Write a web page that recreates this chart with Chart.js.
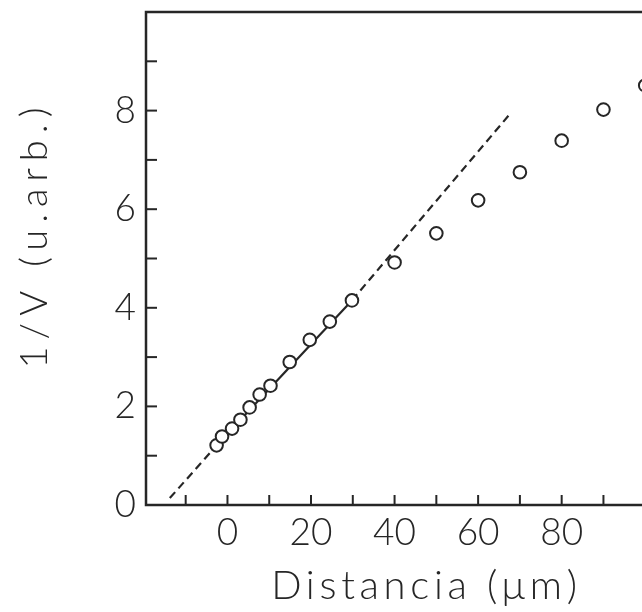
<!DOCTYPE html>
<html>
<head>
<meta charset="utf-8">
<script src="https://cdn.jsdelivr.net/npm/chart.js@4/dist/chart.umd.min.js"></script>
<style>
html,body{margin:0;padding:0;background:#fff;overflow:hidden;width:642px;height:612px;}
#wrap{position:absolute;left:0;top:0;width:700px;height:612px;}
</style>
</head>
<body>
<div id="wrap"><canvas id="c" width="700" height="612"></canvas></div>
<script>
// Data
const distancia = [-2.6, -1.3, 1.1, 3.1, 5.3, 7.7, 10.3, 14.9, 19.7, 24.5, 29.8, 40, 50, 60, 70, 80, 90, 100];
const inversoV  = [1.21, 1.39, 1.55, 1.73, 1.98, 2.24, 2.42, 2.90, 3.35, 3.72, 4.15, 4.92, 5.51, 6.18, 6.75, 7.39, 8.02, 8.51];
const ajusteX = [-13.8, -2.6, 29.8, 67.3];
const ajusteY = [0.14, 1.21, 4.15, 7.9];
const ajusteDiscontinuo = [true, false, true];
const xTickLabels = [0, 20, 40, 60, 80];
const yTickLabels = [0, 2, 4, 6, 8];
const xTitle = 'Distancia (μm)';
const yTitle = '1/V (u.arb.)';

const ink = '#262626';
const fontFam = 'Lato, "DejaVu Sans", sans-serif';

function spacedTitle(s, spacing, dx, dy) {
  if (s._spaced) return;
  s._spaced = true;
  const orig = s.drawTitle;
  s.drawTitle = function () {
    const ctx = this.ctx;
    ctx.save();
    ctx.letterSpacing = spacing;
    ctx.translate(dx, dy);
    orig.apply(this, arguments);
    ctx.restore();
    ctx.letterSpacing = '0px';
  };
}

const innerTicks = {
  id: 'innerTicks',
  afterDatasetsDraw(chart) {
    const {ctx, chartArea: a, scales} = chart;
    ctx.save();
    ctx.strokeStyle = ink;
    ctx.lineWidth = 2;
    scales.x.ticks.forEach(t => {
      const px = scales.x.getPixelForValue(t.value);
      if (px <= a.left + 1 || px >= a.right - 1) return;
      ctx.beginPath(); ctx.moveTo(px, a.bottom); ctx.lineTo(px, a.bottom - 10); ctx.stroke();
    });
    scales.y.ticks.forEach(t => {
      const py = scales.y.getPixelForValue(t.value);
      if (py <= a.top + 1 || py >= a.bottom - 1) return;
      ctx.beginPath(); ctx.moveTo(a.left, py); ctx.lineTo(a.left + 11, py); ctx.stroke();
    });
    ctx.lineWidth = 2.5;
    ctx.strokeRect(a.left, a.top, a.right - a.left, a.bottom - a.top);
    ctx.restore();
  }
};

new Chart(document.getElementById('c'), {
  type: 'scatter',
  data: {
    datasets: [
      {
        label: 'ajuste',
        type: 'line',
        data: ajusteX.map((x, i) => ({x, y: ajusteY[i]})),
        borderColor: ink,
        borderWidth: 2.2,
        pointRadius: 0,
        fill: false,
        tension: 0,
        segment: {
          borderDash: c => ajusteDiscontinuo[c.p0DataIndex] ? [8, 5] : undefined
        },
        order: 2
      },
      {
        label: '1/V',
        data: distancia.map((x, i) => ({x, y: inversoV[i]})),
        pointRadius: 6.3,
        pointBorderWidth: 2,
        pointBackgroundColor: '#fff',
        pointBorderColor: ink,
        order: 1
      }
    ]
  },
  options: {
    responsive: false,
    animation: false,
    devicePixelRatio: 1,
    layout: {padding: {left: 0, right: 13, top: 12, bottom: 0}},
    plugins: {legend: {display: false}, tooltip: {enabled: false}},
    scales: {
      x: {
        type: 'linear',
        min: -19.5, max: 110,
        afterBuildTicks: s => { s.ticks = []; for (let v = -10; v <= 100; v += 10) s.ticks.push({value: v}); },
        afterFit: s => { s.height = 107; s.paddingLeft = 0; s.paddingRight = 0; spacedTitle(s, '4.7px', 10, 0); },
        grid: {display: false, drawTicks: false},
        border: {display: false},
        ticks: {
          autoSkip: false, maxRotation: 0, padding: 6, color: ink,
          font: {family: fontFam, size: 37, weight: 300},
          callback: v => xTickLabels.includes(v) ? String(v) : ''
        },
        title: {display: true, text: xTitle, color: ink, padding: {top: 0, bottom: 2},
          font: {family: fontFam, size: 40, weight: 300}}
      },
      y: {
        type: 'linear',
        min: 0, max: 10,
        afterBuildTicks: s => { s.ticks = []; for (let v = 0; v <= 10; v += 1) s.ticks.push({value: v}); },
        afterFit: s => { s.width = 146; s.paddingTop = 0; s.paddingBottom = 0; spacedTitle(s, '7px', 0, -24); },
        grid: {display: false, drawTicks: false},
        border: {display: false},
        ticks: {
          autoSkip: false, padding: 10, color: ink,
          font: {family: fontFam, size: 37, weight: 300},
          callback: v => yTickLabels.includes(v) ? String(v) : ''
        },
        title: {display: true, text: yTitle, color: ink, padding: {top: 12, bottom: 0},
          font: {family: fontFam, size: 38, weight: 300}}
      }
    }
  },
  plugins: [innerTicks]
});
</script>
</body>
</html>
